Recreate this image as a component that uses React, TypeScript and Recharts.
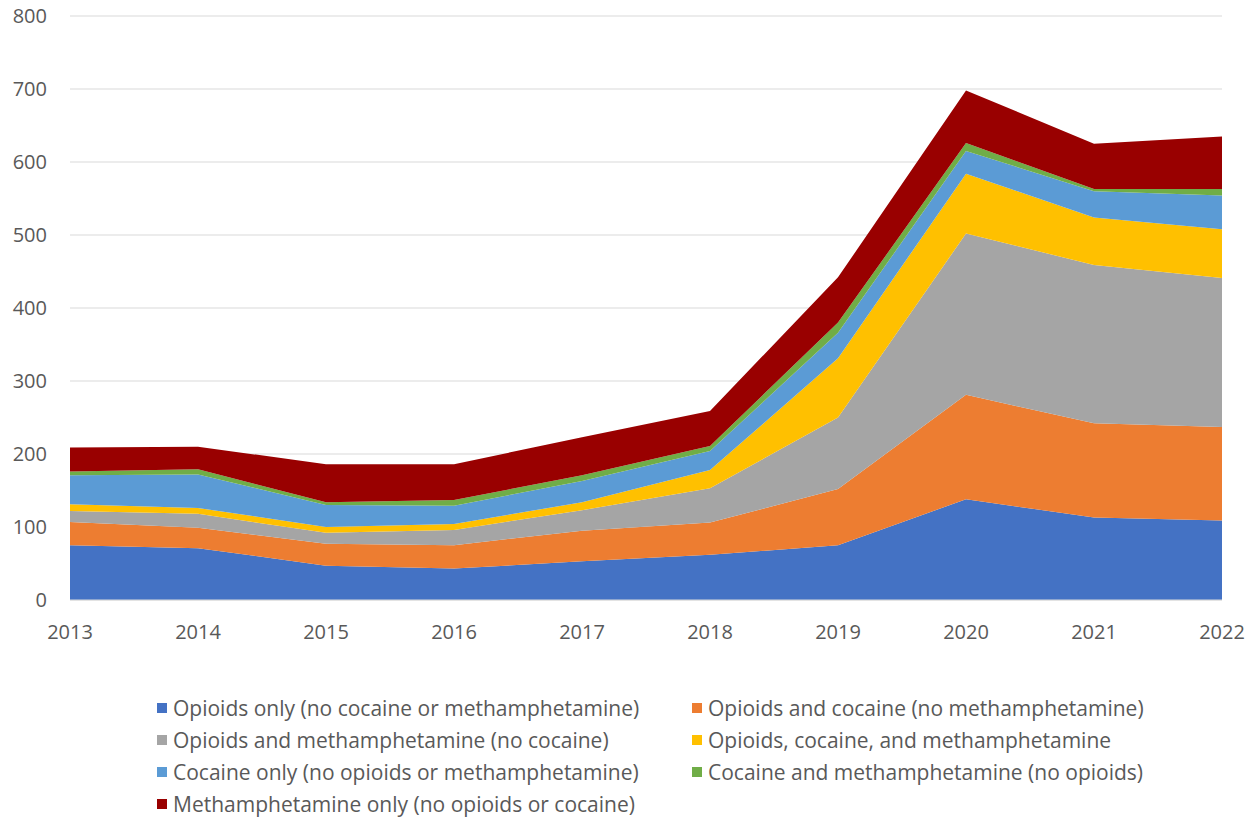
import React from 'react';
import { AreaChart, Area, XAxis, YAxis, CartesianGrid, Legend } from 'recharts';

const years = ['2013', '2014', '2015', '2016', '2017', '2018', '2019', '2020', '2021', '2022'];
const opioidsOnly = [75, 71, 47, 43, 53, 62, 75, 138, 113, 109];
const opioidsCocaine = [32, 28, 30, 32, 42, 44, 77, 143, 129, 128];
const opioidsMeth = [15, 19, 15, 21, 28, 47, 98, 221, 217, 204];
const opioidsCocaineMeth = [9, 8, 8, 8, 11, 25, 81, 82, 65, 67];
const cocaineOnly = [40, 46, 30, 25, 29, 26, 35, 31, 36, 46];
const cocaineMeth = [5, 7, 4, 8, 8, 7, 14, 11, 3, 9];
const methOnly = [33, 31, 52, 49, 52, 48, 62, 72, 62, 72];
const yTicks = [0, 100, 200, 300, 400, 500, 600, 700, 800];

const series = [
  { key: 's1', name: 'Opioids only (no cocaine or methamphetamine)', values: opioidsOnly, color: '#4472C4' },
  { key: 's2', name: 'Opioids and cocaine (no methamphetamine)', values: opioidsCocaine, color: '#ED7D31' },
  { key: 's3', name: 'Opioids and methamphetamine (no cocaine)', values: opioidsMeth, color: '#A5A5A5' },
  { key: 's4', name: 'Opioids, cocaine, and methamphetamine', values: opioidsCocaineMeth, color: '#FFC000' },
  { key: 's5', name: 'Cocaine only (no opioids or methamphetamine)', values: cocaineOnly, color: '#5B9BD5' },
  { key: 's6', name: 'Cocaine and methamphetamine (no opioids)', values: cocaineMeth, color: '#70AD47' },
  { key: 's7', name: 'Methamphetamine only (no opioids or cocaine)', values: methOnly, color: '#990000' },
];

const data = years.map((y, i) => {
  const row: Record<string, string | number> = { year: y };
  series.forEach((s) => {
    row[s.key] = s.values[i];
  });
  return row;
});

const FONT = '"Open Sans", sans-serif';
const TEXT = '#595959';

const LegendContent = () => (
  <div
    style={{
      display: 'grid',
      gridTemplateColumns: '535px 535px',
      fontFamily: FONT,
      fontSize: 21,
      color: TEXT,
      lineHeight: '32px',
    }}
  >
    {series.map((s) => (
      <div key={s.key} style={{ display: 'flex', alignItems: 'center', whiteSpace: 'nowrap' }}>
        <span style={{ display: 'inline-block', width: 10, height: 10, background: s.color, marginRight: 6 }} />
        <span>{s.name}</span>
      </div>
    ))}
  </div>
);

export default function App() {
  return (
    <div style={{ position: 'absolute', left: 0, top: 0, width: 1260, height: 820, background: '#fff' }}>
      <AreaChart width={1260} height={820} data={data} margin={{ top: 16, right: 38, left: 0, bottom: 190 }}>
        <CartesianGrid vertical={false} stroke="#d9d9d9" strokeWidth={1.2} />
        <XAxis
          dataKey="year"
          height={30}
          axisLine={{ stroke: '#d9d9d9', strokeWidth: 1.2 }}
          tickLine={false}
          tickSize={0}
          tickMargin={25}
          interval={0}
          padding={{ left: 0, right: 0 }}
          tick={{ fill: TEXT, fontSize: 20, fontFamily: FONT }}
        />
        <YAxis
          width={70}
          domain={[0, 800]}
          ticks={yTicks}
          axisLine={false}
          tickLine={false}
          tickSize={0}
          tickMargin={23}
          tick={{ fill: TEXT, fontSize: 20, fontFamily: FONT }}
        />
        {series.map((s) => (
          <Area
            key={s.key}
            type="linear"
            dataKey={s.key}
            name={s.name}
            stackId="a"
            fill={s.color}
            fillOpacity={1}
            stroke="none"
            isAnimationActive={false}
          />
        ))}
        <Legend
          layout="horizontal"
          verticalAlign="middle"
          align="center"
          content={<LegendContent />}
          wrapperStyle={{ position: 'absolute', left: 157, top: 692, width: 1080, height: 130 }}
        />
      </AreaChart>
    </div>
  );
}
